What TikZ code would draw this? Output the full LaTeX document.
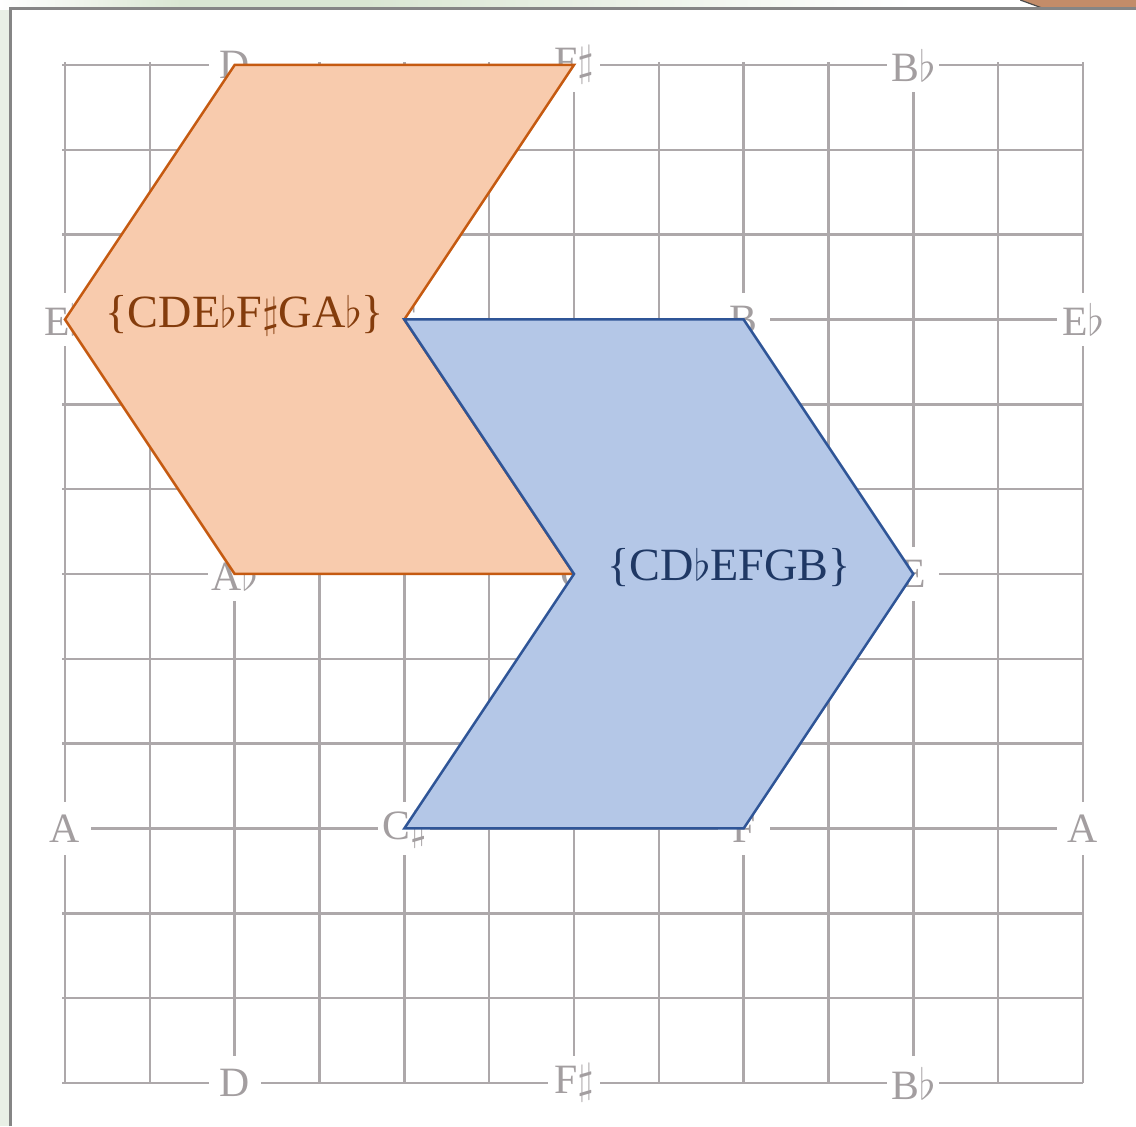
\documentclass[tikz,border=0pt]{standalone}
\usepackage{fontspec}
\setmainfont{Liberation Serif}
\definecolor{gridgray}{HTML}{ADA8AA}
\definecolor{labelgray}{HTML}{A39EA0}
\definecolor{orfill}{HTML}{F8CBAD}
\definecolor{ordraw}{HTML}{C55A11}
\definecolor{ortext}{HTML}{843C0C}
\definecolor{blfill}{HTML}{B4C7E7}
\definecolor{bldraw}{HTML}{2F5597}
\definecolor{bltext}{HTML}{1F3864}
\definecolor{framegray}{HTML}{858585}
\definecolor{outsidegreen}{HTML}{E9F0E6}
\definecolor{topgreen}{HTML}{D9E6D2}
\definecolor{brownobj}{HTML}{C38C69}
\tikzset{
  gridline/.style={draw=gridgray, line width=0.8pt},
  notelabel/.style={fill=white, text=labelgray, font=\fontsize{14}{16}\selectfont,
    minimum width=17.5pt, minimum height=18pt, inner sep=1pt},
  hiddenlabel/.style={notelabel, minimum width=0pt, minimum height=0pt, inner sep=0.5pt},
  orangeshape/.style={fill=orfill, draw=ordraw, line width=0.85pt, line join=miter},
  blueshape/.style={fill=blfill, draw=bldraw, line width=0.85pt, line join=miter},
  settext/.style={font=\fontsize{15.5}{18}\selectfont, inner sep=0pt}
}
\begin{document}
\begin{tikzpicture}[x=1cm, y=-1cm]
% page size: 1136 x 1126 px, 84.83 px per unit, origin at px (65,65)
\useasboundingbox (-0.766,-0.766) rectangle (12.625,12.508);
% surroundings of the sheet
\fill[outsidegreen] (-0.766,-0.766) rectangle (12.625,12.508);
\shade[left color=white, right color=topgreen, middle color=topgreen]
  (-0.766,-0.766) rectangle (3.5,-0.655);
\shade[left color=topgreen, right color=white]
  (3.5,-0.766) rectangle (10.0,-0.655);
\fill[white] (10.0,-0.766) rectangle (12.625,-0.655);
\fill[brownobj] (11.26,-0.766) -- (12.625,-0.766) -- (12.625,-0.66) -- (11.55,-0.66) -- cycle;
\draw[black!70, line width=0.4pt] (11.26,-0.766) -- (11.55,-0.66);
% the sheet
\fill[white] (-0.648,-0.66) rectangle (12.625,12.508);
\draw[framegray, line width=1pt] (-0.648,12.508) -- (-0.648,-0.66) -- (12.625,-0.66);
% grid
\foreach \i in {0,...,12} {
  \draw[gridline] (-0.03,\i) -- (12,\i);
  \draw[gridline] (\i,-0.03) -- (\i,12);
}
% note labels
\node[notelabel] (D0)   at (2,0)   {D};
\node[notelabel] (Fs0)  at (6,0)   {F$\sharp$};
\node[notelabel] (Bb0)  at (10,0)  {B$\flat$};
\node[notelabel] (Eb3)  at (0,3)   {E$\flat$};
\node[hiddenlabel] (G3) at (4,3)   {G};
\node[notelabel] (B3)   at (8,3)   {B};
\node[notelabel] (Eb3r) at (12,3)  {E$\flat$};
\node[notelabel] (Ab6)  at (2,6)   {A$\flat$};
\node[hiddenlabel] (C6) at (6,6)   {C};
\node[notelabel] (E6)   at (10,6)  {E};
\node[notelabel] (A9)   at (0,9)   {A};
\node[notelabel] (Cs9)  at (4,9)   {C$\sharp$};
\node[notelabel] (F9)   at (8,9)   {F};
\node[notelabel] (A9r)  at (12,9)  {A};
\node[notelabel] (D12)  at (2,12)  {D};
\node[notelabel] (Fs12) at (6,12)  {F$\sharp$};
\node[notelabel] (Bb12) at (10,12) {B$\flat$};
% orange hexachord
\draw[orangeshape] (D0.center) -- (Fs0.center) -- (G3.center) -- (C6.center)
  -- (Ab6.center) -- (Eb3.center) -- cycle;
% blue hexachord
\draw[blueshape] (G3.center) -- (B3.center) -- (E6.center) -- (F9.center)
  -- (Cs9.center) -- (C6.center) -- cycle;
% set names
\node[settext, text=ortext] (orset) at (2.12,2.95) {\{CDE$\flat$F$\sharp$GA$\flat$\}};
\node[settext, text=bltext] (blset) at (7.83,5.92) {\{CD$\flat$EFGB\}};
\end{tikzpicture}
\end{document}
